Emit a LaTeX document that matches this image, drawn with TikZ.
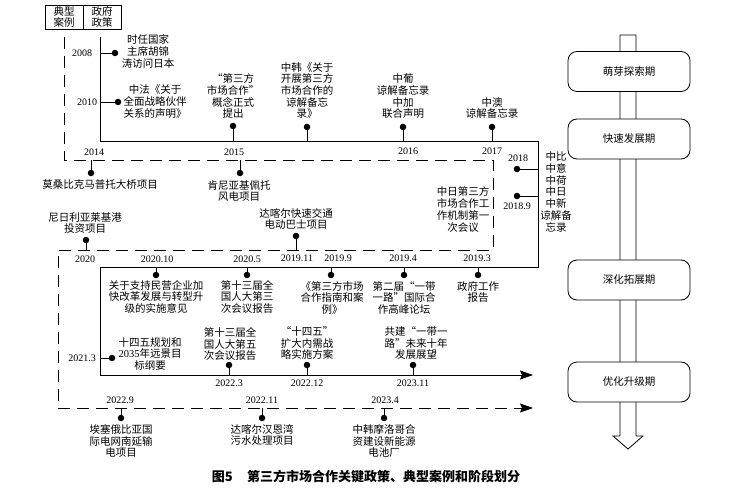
\documentclass[tikz,border=0pt]{standalone}
\usepackage{fontspec}
\setmainfont{Noto Sans CJK SC}
\newfontfamily\yrfont{Liberation Serif}
\usetikzlibrary{arrows.meta}
\begin{document}
\begin{tikzpicture}[x=1pt,y=-1pt,
  line/.style={line width=0.8pt},
  dline/.style={line width=0.8pt,dash pattern=on 12pt off 7pt},
  dot/.style={circle,fill=black,inner sep=0pt,minimum size=6.5pt},
  ev/.style={align=center,inner sep=0pt,font=\fontsize{10.5}{11.7}\selectfont},
  yr/.style={inner sep=0pt,font=\yrfont\fontsize{10}{12}\selectfont},
  hdr/.style={draw,line width=0.8pt,minimum width=38pt,minimum height=24pt,inner sep=0pt,align=center,font=\fontsize{10.5}{11.5}\selectfont},
  stage/.style={draw,line width=0.8pt,fill=white,rounded corners=9pt,minimum width=122pt,minimum height=40pt,font=\fontsize{10.5}{12}\selectfont},
  tip/.style={-{Stealth[length=13pt,width=9pt,inset=2pt]}}
]
\useasboundingbox (0,0) rectangle (743,489);

% header
\node[hdr] (h1) at (64,17) {典型\\案例};
\node[hdr] (h2) at (102,17) {政府\\政策};

% main solid path
\coordinate (s0) at (100,37);
\coordinate (s1) at (100,141);
\coordinate (s2) at (538,141);
\coordinate (s3) at (538,267);
\coordinate (s4) at (100,267);
\coordinate (s5) at (100,375);
\coordinate (s6) at (533,375);
\draw[line,tip] (s0)--(s1)--(s2)--(s3)--(s4)--(s5)--(s6);

% main dashed path
\coordinate (d0) at (64,37);
\coordinate (d1) at (64,160);
\coordinate (d2) at (493,160);
\coordinate (d3) at (493,250);
\coordinate (d4) at (58,250);
\coordinate (d5) at (58,408);
\coordinate (d6) at (533,408);
\draw[dline,tip] (d0)--(d1)--(d2)--(d3)--(d4)--(d5)--(d6);

% ---- top policies
\node[dot] (e2008) at (115,53) {};
\draw[line] (e2008) -- (e2008 -| s0);
\node[yr] (y2008) at (82,53) {2008};
\node[ev] (t2008) at (148,51.5) {时任国家\\主席胡锦\\涛访问日本};

\node[dot] (e2010) at (118,102) {};
\draw[line] (e2010) -- (e2010 -| s0);
\node[yr] (y2010) at (87,102) {2010};
\node[ev] (t2010) at (155,101.5) {中法《关于\\全面战略伙伴\\关系的声明》};

\node[dot] (e2015) at (233,126) {};
\draw[line] (e2015) -- (e2015 |- s1);
\node[ev,anchor=south] (t2015) at (233,119) {“第三方\\市场合作”\\概念正式\\提出};

\node[dot] (eKor) at (307,127) {};
\draw[line] (eKor) -- (eKor |- s1);
\node[ev,anchor=south] (tKor) at (307,119) {中韩《关于\\开展第三方\\市场合作的\\谅解备忘\\录》};

\node[dot] (ePor) at (403,127) {};
\draw[line] (ePor) -- (ePor |- s1);
\node[ev,anchor=south] (tPor) at (403,119) {中葡\\谅解备忘录\\中加\\联合声明};

\node[dot] (eAus) at (492,127) {};
\draw[line] (eAus) -- (eAus |- s1);
\node[ev,anchor=south] (tAus) at (492,119) {中澳\\谅解备忘录};

\node[yr] (y2014) at (94,152) {2014};
\node[yr] (y2015) at (234,152) {2015};
\node[yr] (y2016) at (408,151) {2016};
\node[yr] (y2017) at (492,151) {2017};

% ---- top cases
\node[dot] (c1) at (91,173) {};
\draw[line] (c1) -- (c1 |- d1);
\node[ev] (tc1) at (100,185) {莫桑比克马普托大桥项目};

\node[dot] (c2) at (240,173) {};
\draw[line] (c2) -- (c2 |- d1);
\node[ev] (tc2) at (239,191) {肯尼亚基佩托\\风电项目};

% ---- right side
\node[dot] (e2018) at (517,169) {};
\draw[line] (e2018) -- (e2018 -| s2);
\node[yr] (y2018) at (518,158) {2018};
\node[dot] (e20189) at (517,196) {};
\draw[line] (e20189) -- (e20189 -| s2);
\node[yr] (y20189) at (517,206) {2018.9};
\node[ev] (tRight) at (556,192) {中比\\中意\\中荷\\中日\\中新\\谅解备\\忘录};
\node[ev] (tJp) at (463,209.5) {中日第三方\\市场合作工\\作机制第一\\次会议};

% ---- second dashed row
\node[dot] (c3) at (86,240) {};
\draw[line] (c3) -- (c3 |- d3);
\node[ev] (tc3) at (85,223) {尼日利亚莱基港\\投资项目};

\node[dot] (c4) at (296,236) {};
\draw[line] (c4) -- (c4 |- d3);
\node[ev] (tc4) at (296,219) {达喀尔快速交通\\电动巴士项目};

\node[yr] (y2020) at (85,259) {2020};
\node[yr] (y202010) at (157,259) {2020.10};
\node[yr] (y20205) at (247,259) {2020.5};
\node[yr] (y201911) at (297,258) {2019.11};
\node[yr] (y20199) at (338,258) {2019.9};
\node[yr] (y20194) at (403,258) {2019.4};
\node[yr] (y20193) at (477,258) {2019.3};

% ---- second solid row
\node[dot] (p1) at (156,275) {};
\draw[line] (p1) -- (p1 |- s3);
\node[ev,anchor=north] (tp1) at (156,280) {关于支持民营企业加\\快改革发展与转型升\\级的实施意见};

\node[dot] (p2) at (247,275) {};
\draw[line] (p2) -- (p2 |- s3);
\node[ev,anchor=north] (tp2) at (247,280) {第十三届全\\国人大第三\\次会议报告};

\node[dot] (p3) at (331,275) {};
\draw[line] (p3) -- (p3 |- s3);
\node[ev,anchor=north] (tp3) at (332,281) {《第三方市场\\合作指南和案\\例》};

\node[dot] (p4) at (404,275) {};
\draw[line] (p4) -- (p4 |- s3);
\node[ev,anchor=north] (tp4) at (404,281) {第二届“一带\\一路”国际合\\作高峰论坛};

\node[dot] (p5) at (478,275) {};
\draw[line] (p5) -- (p5 |- s3);
\node[ev,anchor=north] (tp5) at (478,281) {政府工作\\报告};

% ---- third solid row
\node[dot] (p6) at (112,358) {};
\draw[line] (p6) -- (p6 -| s4);
\node[yr] (y20213) at (82,358) {2021.3};
\node[ev] (tp6) at (150,354) {十四五规划和\\{\yrfont 2035}年远景目\\标纲要};

\node[dot] (p7) at (229,365) {};
\draw[line] (p7) -- (p7 |- s5);
\node[yr] (y20223) at (229,383) {2022.3};
\node[ev] (tp7) at (230,344) {第十三届全\\国人大第五\\次会议报告};

\node[dot] (p8) at (307,365) {};
\draw[line] (p8) -- (p8 |- s5);
\node[yr] (y202212) at (307,383) {2022.12};
\node[ev] (tp8) at (307,343) {“十四五”\\扩大内需战\\略实施方案};

\node[dot] (p9) at (413,365) {};
\draw[line] (p9) -- (p9 |- s5);
\node[yr] (y202311) at (413,383) {2023.11};
\node[ev] (tp9) at (416,343) {共建“一带一\\路”未来十年\\发展展望};

% ---- bottom dashed row
\node[yr] (y20229) at (120,400) {2022.9};
\node[yr] (y202211) at (262,400) {2022.11};
\node[yr] (y20234) at (385,400) {2023.4};

\node[dot] (c5) at (121,418) {};
\draw[line] (c5) -- (c5 |- d5);
\node[ev] (tc5) at (121,441) {埃塞俄比亚国\\际电网南延输\\电项目};

\node[dot] (c6) at (262,418) {};
\draw[line] (c6) -- (c6 |- d5);
\node[ev] (tc6) at (262,435) {达喀尔汉恩湾\\污水处理项目};

\node[dot] (c7) at (384,418) {};
\draw[line] (c7) -- (c7 |- d5);
\node[ev] (tc7) at (384,441) {中韩摩洛哥合\\资建设新能源\\电池厂};

% ---- stage arrow
\draw[line,fill=white] (620,35)--(636,35)--(636,436)--(643,436)--(628,449)--(613,436)--(620,436)--cycle;
\node[stage] (st1) at (629,71.5) {萌芽探索期};
\node[stage] (st2) at (629,139) {快速发展期};
\node[stage] (st3) at (629,280) {深化拓展期};
\node[stage] (st4) at (629,382) {优化升级期};

% caption
\node[inner sep=0pt,font=\bfseries\fontsize{13}{15}\selectfont] (cap) at (366,477) {图5\hspace{1.1em}第三方市场合作关键政策、典型案例和阶段划分};
\end{tikzpicture}
\end{document}
